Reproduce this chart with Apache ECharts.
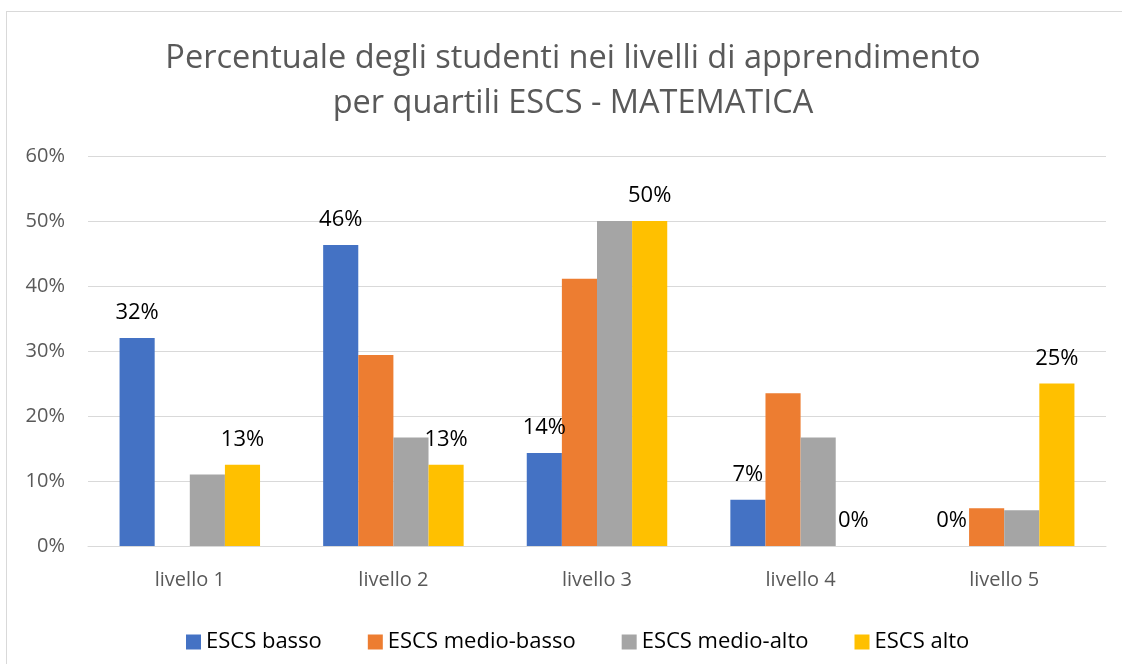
<!DOCTYPE html>
<html>
<head>
<meta charset="utf-8">
<script src="https://cdn.jsdelivr.net/npm/echarts@6/dist/echarts.min.js"></script>
<style>
  html, body { margin: 0; padding: 0; background: #fff; }
  #frame { position: absolute; left: 6px; top: 11px; width: 1130px; height: 670px; border: 1px solid #d9d9d9; box-sizing: border-box; }
  #main { position: absolute; left: 0; top: 0; width: 1122px; height: 664px; }
</style>
</head>
<body>
<div id="frame"></div>
<div id="main"></div>
<script>
// categorie e serie (valori in %)
const livelli = ['livello 1', 'livello 2', 'livello 3', 'livello 4', 'livello 5'];
const seriesNames = ['ESCS basso', 'ESCS medio-basso', 'ESCS medio-alto', 'ESCS alto'];
const escsBasso = [32.0, 46.3, 14.3, 7.1, 0];
const escsMedioBasso = [0, 29.4, 41.1, 23.5, 5.8];
const escsMedioAlto = [11.0, 16.7, 50.0, 16.7, 5.5];
const escsAlto = [12.5, 12.5, 50.0, 0, 25.0];
const colori = ['#4472C4', '#ED7D31', '#A5A5A5', '#FFC000'];
const FONT = 'Open Sans';

var myChart = echarts.init(document.getElementById('main'), null, { renderer: 'canvas' });

function barra(nome, dati, colore, etichette) {
  return {
    name: nome,
    type: 'bar',
    data: dati,
    itemStyle: { color: colore },
    barGap: '0%',
    barCategoryGap: '31%',
    label: {
      show: etichette,
      position: 'top',
      distance: 14,
      fontFamily: FONT,
      fontSize: 22,
      color: '#000',
      formatter: p => Math.round(p.value) + '%'
    }
  };
}

var option = {
  textStyle: { fontFamily: FONT },
  title: {
    text: 'Percentuale degli studenti nei livelli di apprendimento\nper quartili ESCS - MATEMATICA',
    left: 568,
    textAlign: 'center',
    top: 31,
    textStyle: { fontFamily: FONT, fontSize: 32.5, fontWeight: 'normal', color: '#595959', lineHeight: 45 }
  },
  legend: {
    data: seriesNames,
    left: 181,
    top: 626,
    icon: 'rect',
    itemWidth: 15,
    itemHeight: 15,
    itemGap: 46,
    textStyle: { fontFamily: FONT, fontSize: 22, color: '#000' }
  },
  grid: { left: 88, right: 16, top: 156, bottom: 118 },
  xAxis: {
    type: 'category',
    data: livelli,
    axisTick: { show: false },
    axisLine: { lineStyle: { color: '#d9d9d9', width: 1 } },
    axisLabel: { fontFamily: FONT, fontSize: 20, color: '#595959', margin: 24 }
  },
  yAxis: {
    type: 'value',
    min: 0,
    max: 60,
    interval: 10,
    axisLine: { show: false },
    axisTick: { show: false },
    splitLine: { lineStyle: { color: '#d9d9d9', width: 1 } },
    axisLabel: { fontFamily: FONT, fontSize: 20, color: '#595959', margin: 23, formatter: '{value}%' }
  },
  series: [
    barra(seriesNames[0], escsBasso, colori[0], true),
    barra(seriesNames[1], escsMedioBasso, colori[1], false),
    barra(seriesNames[2], escsMedioAlto, colori[2], false),
    barra(seriesNames[3], escsAlto, colori[3], true)
  ]
};

myChart.setOption(option);
</script>
</body>
</html>
